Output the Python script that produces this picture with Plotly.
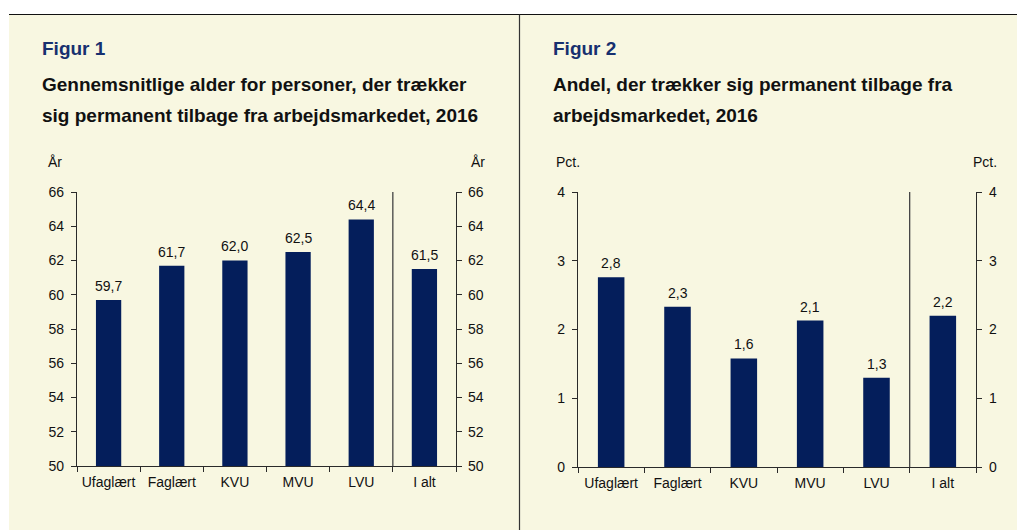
import plotly.graph_objects as go

W, H = 1017, 530

categories = ["Ufaglært", "Faglært", "KVU", "MVU", "LVU", "I alt"]
alder = [59.7, 61.7, 62.0, 62.5, 64.4, 61.5]
andel = [2.76, 2.33, 1.58, 2.13, 1.30, 2.20]

fig1_label = "Figur 1"
fig1_title = ["Gennemsnitlige alder for personer, der trækker",
              "sig permanent tilbage fra arbejdsmarkedet, 2016"]
fig2_label = "Figur 2"
fig2_title = ["Andel, der trækker sig permanent tilbage fra",
              "arbejdsmarkedet, 2016"]
unit1 = "År"
unit2 = "Pct."
range1 = [50, 66]
range2 = [0, 4]

BAR = "#041E5B"
AX = "#2A2A2A"
BG = "#F8F7E1"
FONT = "Liberation Sans"
NAVY = "#17306F"


def px(x):
    return x / W


def py(y):
    return 1 - y / H


fig = go.Figure()

fig.add_trace(go.Bar(x=categories, y=alder, xaxis="x", yaxis="y",
                     marker=dict(color=BAR, line=dict(width=0)),
                     width=0.4, hoverinfo="skip"))
fig.add_trace(go.Scatter(x=categories, y=alder, xaxis="x", yaxis="y2",
                         mode="markers", marker=dict(opacity=0),
                         hoverinfo="skip"))
fig.add_trace(go.Bar(x=categories, y=andel, xaxis="x2", yaxis="y3",
                     marker=dict(color=BAR, line=dict(width=0)),
                     width=0.4, hoverinfo="skip"))
fig.add_trace(go.Scatter(x=categories, y=andel, xaxis="x2", yaxis="y4",
                         mode="markers", marker=dict(opacity=0),
                         hoverinfo="skip"))

tickfont = dict(family=FONT, size=14, color="#111111")


def xax(domain, anchor):
    return dict(domain=domain, anchor=anchor, type="category",
                range=[-0.5, 5.5], tickson="boundaries", ticks="outside",
                ticklen=5, tickcolor=AX, showline=True, linecolor=AX,
                linewidth=1.3, showgrid=False, zeroline=False,
                tickfont=tickfont, fixedrange=True, ticklabelstandoff=3,
                automargin=False)


def yax(domain, anchor, rng, dtick, side, overlaying=None, standoff=4):
    d = dict(domain=domain, anchor=anchor, range=rng, dtick=dtick,
             side=side, ticks="outside", ticklen=5, tickcolor=AX,
             showline=True, linecolor=AX, linewidth=1.3, showgrid=False,
             zeroline=False, tickfont=tickfont, fixedrange=True,
             ticklabelstandoff=standoff, automargin=False)
    if overlaying:
        d["overlaying"] = overlaying
    return d


ydom1 = [py(466), py(192)]
ydom2 = [py(467), py(192)]

layout = dict(
    width=W, height=H,
    margin=dict(l=0, r=0, t=0, b=0, autoexpand=False),
    paper_bgcolor="white", plot_bgcolor="rgba(0,0,0,0)",
    showlegend=False,
    bargap=0.6,
    xaxis=xax([px(77), px(456)], "y"),
    yaxis=yax(ydom1, "x", range1, 2, "left", standoff=4),
    yaxis2=yax(ydom1, "x", range1, 2, "right", "y", standoff=3),
    xaxis2=xax([px(578), px(976)], "y3"),
    yaxis3=yax(ydom2, "x2", range2, 1, "left", standoff=4),
    yaxis4=yax(ydom2, "x2", range2, 1, "right", "y3", standoff=4),
)
fig.update_layout(**layout)

shapes = [
    dict(type="rect", xref="paper", yref="paper", x0=px(9), x1=1,
         y0=0, y1=py(14.5), fillcolor=BG, line=dict(width=0), layer="below"),
    dict(type="line", xref="paper", yref="paper", x0=px(9), x1=1,
         y0=py(14.5), y1=py(14.5), line=dict(color="#111111", width=1.2)),
    dict(type="line", xref="paper", yref="paper", x0=px(519.5), x1=px(519.5),
         y0=0, y1=py(14.5), line=dict(color="#333333", width=1.2)),
    dict(type="line", xref="x", yref="y", x0=4.5, x1=4.5,
         y0=range1[0], y1=range1[1], line=dict(color="#444444", width=1.3)),
    dict(type="line", xref="x2", yref="y3", x0=4.5, x1=4.5,
         y0=range2[0], y1=range2[1], line=dict(color="#444444", width=1.3)),
]
fig.update_layout(shapes=shapes)

ann = []


def fmt(v):
    return f"{v:.1f}".replace(".", ",")


for c, v in zip(categories, alder):
    ann.append(dict(x=c, y=v, xref="x", yref="y", text=fmt(v),
                    showarrow=False, yanchor="middle", yshift=14,
                    font=dict(family=FONT, size=14, color="#111111")))
for c, v in zip(categories, andel):
    ann.append(dict(x=c, y=v, xref="x2", yref="y3", text=fmt(v),
                    showarrow=False, yanchor="middle", yshift=14,
                    font=dict(family=FONT, size=14, color="#111111")))


def ptext(x, y, text, size=14, bold=False, color="#111111", anchor="left"):
    ann.append(dict(x=px(x), y=py(y), xref="paper", yref="paper",
                    text=f"<b>{text}</b>" if bold else text,
                    showarrow=False, xanchor=anchor, yanchor="middle",
                    font=dict(family=FONT, size=size, color=color)))


ptext(40, 49, fig1_label, 19, True, NAVY)
ptext(40, 85, fig1_title[0], 19, True)
ptext(40, 115, fig1_title[1], 19, True)
ptext(551, 49, fig2_label, 19, True, NAVY)
ptext(551, 85, fig2_title[0], 19, True)
ptext(551, 115, fig2_title[1], 19, True)

ptext(55, 162, unit1, 14, anchor="center")
ptext(478, 162, unit1, 14, anchor="center")
ptext(568, 162, unit2, 14, anchor="center")
ptext(985, 162, unit2, 14, anchor="center")

fig.update_layout(annotations=ann)

post = ("document.documentElement.style.margin='0';"
        "document.body.style.margin='0';"
        "document.body.style.overflow='hidden';"
        "var d=document.getElementById('{plot_id}');"
        "d.style.position='fixed';d.style.top='0px';d.style.left='0px';")

fig.write_html("out.html", config={"displayModeBar": False},
               post_script=post)
